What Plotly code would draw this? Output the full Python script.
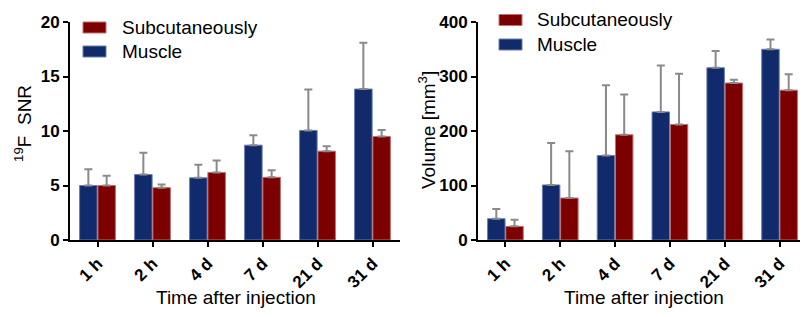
import plotly.graph_objects as go

# Window is 808x317; the page body adds an 8px margin, so the figure is 800x309
OFF = 8
W, H = 808 - OFF, 317 - OFF

categories = ["1 h", "2 h", "4 d", "7 d", "21 d", "31 d"]

snr_muscle = [5.0, 6.0, 5.7, 8.7, 10.05, 13.85]
snr_muscle_err_top = [6.5, 8.0, 6.9, 9.6, 13.8, 18.1]
snr_subcut = [5.0, 4.8, 6.2, 5.75, 8.15, 9.5]
snr_subcut_err_top = [5.9, 5.1, 7.3, 6.4, 8.6, 10.1]

vol_muscle = [39, 101, 155, 235, 316, 350]
vol_muscle_err_top = [57, 178, 284, 320, 347, 368]
vol_subcut = [25, 77, 193, 212, 288, 275]
vol_subcut_err_top = [37, 163, 267, 305, 294, 304]

series_names = ["Subcutaneously", "Muscle"]
snr_ticks = [0, 5, 10, 15, 20]
vol_ticks = [0, 100, 200, 300, 400]

BLUE = "#112a6b"
BLUE_EDGE = "#6a7db0"
RED = "#7d0000"
RED_EDGE = "#c07070"
ERR = "#8a8a8a"
FONT = "Arial, Liberation Sans, sans-serif"


def px(x):
    return (x - OFF) / W


def py(y):
    return 1 - (y - OFF) / H


def err_plus(vals, tops):
    return [t - v for v, t in zip(vals, tops)]


fig = go.Figure()

for xa, ya, m, mt, s, st in [
    ("x", "y", snr_muscle, snr_muscle_err_top, snr_subcut, snr_subcut_err_top),
    ("x2", "y2", vol_muscle, vol_muscle_err_top, vol_subcut, vol_subcut_err_top),
]:
    fig.add_trace(go.Bar(
        x=categories, y=m, name=series_names[1], xaxis=xa, yaxis=ya,
        marker=dict(color=BLUE, line=dict(color=BLUE_EDGE, width=1)),
        error_y=dict(type="data", symmetric=False, array=err_plus(m, mt),
                     arrayminus=[0] * len(m), color=ERR, thickness=2, width=4),
        showlegend=False,
    ))
    fig.add_trace(go.Bar(
        x=categories, y=s, name=series_names[0], xaxis=xa, yaxis=ya,
        marker=dict(color=RED, line=dict(color=RED_EDGE, width=1)),
        error_y=dict(type="data", symmetric=False, array=err_plus(s, st),
                     arrayminus=[0] * len(s), color=ERR, thickness=2, width=4),
        showlegend=False,
    ))

axis_common = dict(
    showline=True, linecolor="black", linewidth=2, showgrid=False, zeroline=False,
    ticks="outside", ticklen=5, tickwidth=2, tickcolor="black", automargin=False,
    tickfont=dict(family=FONT, size=17, color="black", weight="bold"),
)

ydom = [py(240), py(22)]

fig.update_layout(
    width=W, height=H,
    margin=dict(l=0, r=0, t=0, b=0),
    paper_bgcolor="white", plot_bgcolor="white",
    barmode="group", bargap=0.335, bargroupgap=0.04,
    xaxis=dict(domain=[px(70), px(400)], anchor="y", tickangle=-45,
               range=[-0.5, 5.5], **axis_common),
    yaxis=dict(domain=ydom, anchor="x", range=[0, 20], tickvals=snr_ticks,
               **axis_common),
    xaxis2=dict(domain=[px(478), px(807)], anchor="y2", tickangle=-45,
                range=[-0.5, 5.5], **axis_common),
    yaxis2=dict(domain=ydom, anchor="x2", range=[0, 400], tickvals=vol_ticks,
                **axis_common),
)

title_font = dict(family=FONT, size=19, color="black")
annotations = [
    dict(text="Time after injection", x=px(235.5), y=py(297), xref="paper", yref="paper",
         showarrow=False, font=title_font, xanchor="center", yanchor="middle"),
    dict(text="Time after injection", x=px(643.5), y=py(297), xref="paper", yref="paper",
         showarrow=False, font=title_font, xanchor="center", yanchor="middle"),
    dict(text="<sup>19</sup>F  SNR", x=px(23), y=py(124), xref="paper", yref="paper",
         showarrow=False, font=title_font, textangle=-90, xanchor="center", yanchor="middle"),
    dict(text="Volume [mm<sup>3</sup>]", x=px(427), y=py(130), xref="paper", yref="paper",
         showarrow=False, font=title_font, textangle=-90, xanchor="center", yanchor="middle"),
]

shapes = []
legend_specs = [
    # (swatch x0, x1, text x, row centers)
    (83, 106, 120, [27.5, 51.5]),
    (499, 522, 535, [20, 44.5]),
]
for x0, x1, tx, rows in legend_specs:
    for name, cy, fill, edge in [(series_names[0], rows[0], RED, RED_EDGE),
                                 (series_names[1], rows[1], BLUE, BLUE_EDGE)]:
        shapes.append(dict(type="rect", xref="paper", yref="paper",
                           x0=px(x0), x1=px(x1), y0=py(cy + 5.5), y1=py(cy - 5.5),
                           fillcolor=fill, line=dict(color=edge, width=1)))
        annotations.append(dict(text=name, x=px(tx), y=py(cy), xref="paper", yref="paper",
                                showarrow=False, font=title_font,
                                xanchor="left", yanchor="middle"))

fig.update_layout(annotations=annotations, shapes=shapes)

fig.write_html("out.html")
